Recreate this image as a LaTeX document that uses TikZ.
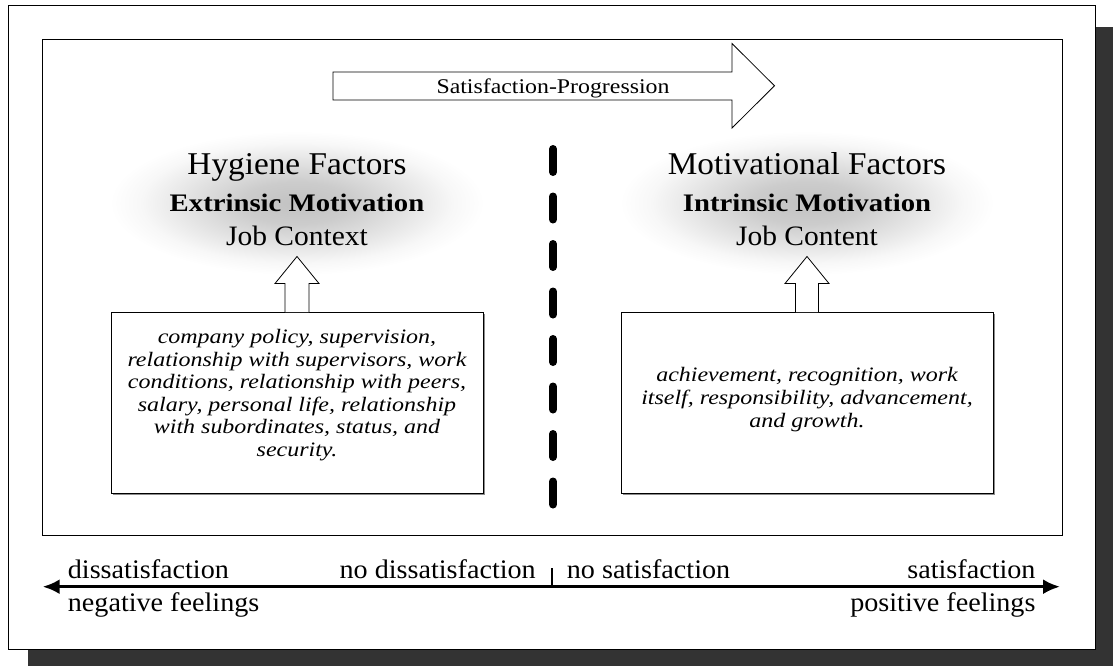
\documentclass[tikz,border=0pt]{standalone}
\usepackage{fontspec}
\setmainfont{Liberation Serif}[FakeStretch=1.05]
\newfontfamily\widefont{Liberation Serif}[FakeStretch=1.14]
\newfontfamily\boxfont{Liberation Serif}[FakeStretch=1.17]
\usetikzlibrary{arrows.meta,calc}
\pgfdeclareradialshading{glow}{\pgfpoint{0bp}{0bp}}{color(0bp)=(black!24); color(7bp)=(black!20); color(14bp)=(black!11); color(20bp)=(black!3); color(24bp)=(white); color(50bp)=(white)}
\definecolor{shadowgray}{HTML}{333333}
\begin{document}
\begin{tikzpicture}[x=1pt,y=-1pt,
  frame/.style={draw=black,line width=1pt},
  factbox/.style={draw=black,line width=1pt,fill=white,minimum width=372pt,minimum height=181pt,inner sep=0pt},
  boxshadow/.style={fill=black!45,minimum width=372pt,minimum height=181pt,inner sep=0pt},
  bigarrow/.style={draw=black,line width=0.8pt,fill=white,line join=miter},
  title1/.style={inner sep=0pt,anchor=base,font=\fontsize{31.7}{36}\selectfont},
  title2/.style={inner sep=0pt,anchor=base,font=\widefont\bfseries\fontsize{25.2}{30}\selectfont},
  title3/.style={inner sep=0pt,anchor=base,font=\fontsize{28.1}{32}\selectfont},
  boxtext/.style={inner sep=0pt,align=center,font=\boxfont\itshape\fontsize{20.5}{22.6}\selectfont},
  axislabel/.style={inner sep=0pt,font=\fontsize{26.8}{30}\selectfont},
  divider/.style={line width=8pt,line cap=round,dash pattern=on 23pt off 24.5pt}
]
\useasboundingbox (0,0) rectangle (1113,666);
% shadow and frames
\fill[shadowgray] (28,27) rectangle (1113,666);
\draw[frame,fill=white] (8,6) rectangle (1095,649);
\draw[frame] (42,40) rectangle (1062,535);

% progression arrow
\draw[bigarrow] (333,72) -- (732,72) -- (732,43.5) -- (774.5,85.8) -- (732,128) -- (732,100) -- (333,100) -- cycle;
\node[inner sep=0pt,anchor=base,font=\widefont\fontsize{20.9}{24}\selectfont] (prog) at (553,94) {Satisfaction-Progression};

% glows
\shade[shading=glow] (297,203) ellipse [x radius=195pt, y radius=75pt];
\shade[shading=glow] (807,203) ellipse [x radius=195pt, y radius=75pt];

% titles
\node[title1] (hyg) at (297,174.5) {Hygiene Factors};
\node[title2] (ext) at (297,211) {Extrinsic Motivation};
\node[title3] (ctx) at (297,245.5) {Job Context};
\node[title1] (mot) at (807,174.5) {Motivational Factors};
\node[title2] (intr) at (807,211) {Intrinsic Motivation};
\node[title3] (cnt) at (807,245.5) {Job Content};

% boxes
\node[boxshadow] (lshadow) at (298.5,404) {};
\node[boxshadow] (rshadow) at (808.5,404) {};
\node[factbox] (lbox) at (297,402.5) {};
\node[factbox] (rbox) at (807,402.5) {};
\node[boxtext] (ltxt) at (297,395) {company policy, supervision,\\relationship with supervisors, work\\conditions, relationship with peers,\\salary, personal life, relationship\\with subordinates, status, and\\security.};
\node[boxtext] (rtxt) at (807,399.5) {achievement, recognition, work\\itself, responsibility, advancement,\\and growth.};

% up arrows
\draw[bigarrow] ($(lbox.north)+(-12,0.6)$) -- ($(lbox.north)+(-12,-28)$) -- ($(lbox.north)+(-22,-28)$) -- ($(lbox.north)+(0,-55)$) -- ($(lbox.north)+(22,-28)$) -- ($(lbox.north)+(12,-28)$) -- ($(lbox.north)+(12,0.6)$);
\draw[bigarrow] ($(rbox.north)+(-11.5,0.6)$) -- ($(rbox.north)+(-11.5,-28)$) -- ($(rbox.north)+(-22,-28)$) -- ($(rbox.north)+(0,-55)$) -- ($(rbox.north)+(22,-28)$) -- ($(rbox.north)+(11.5,-28)$) -- ($(rbox.north)+(11.5,0.6)$);

% divider
\coordinate (dtop) at (553,149);
\coordinate (dbot) at (553,505);
\draw[divider] (dtop) -- (dbot);

% axis
\coordinate (axL) at (42.7,586.7);
\coordinate (axR) at (1060,586.7);
\coordinate (axM) at (552,586.7);
\coordinate (tick) at (552,568);
\draw[line width=3pt,{Latex[length=17pt,width=15pt]}-{Latex[length=17pt,width=15pt]}] (axL) -- (axR);
\draw[line width=2pt] (axM) -- (tick);

\node[axislabel,anchor=base west] (dis) at (67.7,578.3) {dissatisfaction};
\node[axislabel,anchor=base east] (nodis) at (536,578.3) {no dissatisfaction};
\node[axislabel,anchor=base west] (nosat) at (566.7,578.3) {no satisfaction};
\node[axislabel,anchor=base east] (sat) at (1035.7,578.3) {satisfaction};
\node[axislabel,anchor=base west] (neg) at (67.7,611.7) {negative feelings};
\node[axislabel,anchor=base east] (pos) at (1035.7,611.7) {positive feelings};
\end{tikzpicture}
\end{document}
